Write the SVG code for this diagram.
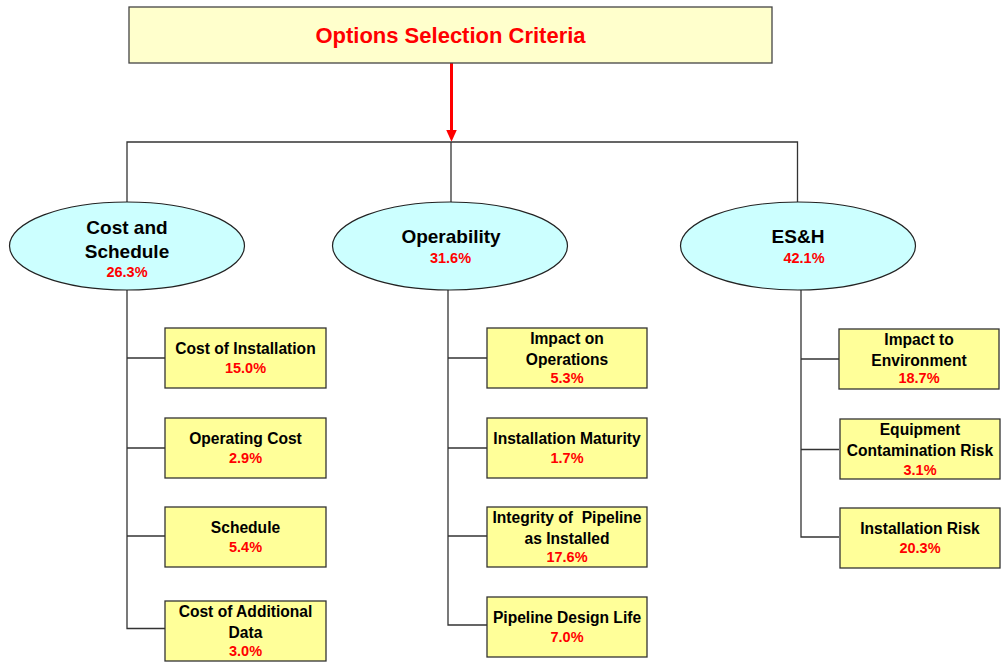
<svg xmlns="http://www.w3.org/2000/svg" width="1005" height="670" viewBox="0 0 1005 670">
<style>
.t{font-family:"Liberation Sans",Arial,sans-serif;font-weight:bold;text-anchor:middle}
.lb{font-size:15.6px;fill:#000}
.el{font-size:19px;fill:#000}
.pc{font-size:14.5px;fill:#FF0000}
.box{fill:#FFFF99;stroke:#333;stroke-width:1.3}
.ell{fill:#CCFFFF;stroke:#222;stroke-width:1.2}
.ln{fill:none;stroke:#333;stroke-width:1.3}
</style>
<defs>
<marker id="ah" markerWidth="4" markerHeight="4" refX="2.6" refY="2" orient="auto" markerUnits="strokeWidth" viewBox="0 0 4 4"><path d="M0,0.2 L4,2 L0,3.8 z" fill="#FF0000"/></marker>
</defs>
<g id="connectors">
<line x1="451.5" y1="63" x2="451.5" y2="137.5" stroke="#FF0000" stroke-width="3" marker-end="url(#ah)"/>
<polyline class="ln" points="127,202 127,142 797.5,142 797.5,202"/>
<line class="ln" x1="451" y1="142" x2="451" y2="202"/>
<polyline class="ln" points="127,290 127,628.5 165,628.5"/>
<line class="ln" x1="127" y1="358" x2="165" y2="358"/>
<line class="ln" x1="127" y1="448" x2="165" y2="448"/>
<line class="ln" x1="127" y1="536" x2="165" y2="536"/>
<polyline class="ln" points="448,290 448,625 487,625"/>
<line class="ln" x1="448" y1="358" x2="487" y2="358"/>
<line class="ln" x1="448" y1="448" x2="487" y2="448"/>
<line class="ln" x1="448" y1="536" x2="487" y2="536"/>
<polyline class="ln" points="801,290 801,537 839,537"/>
<line class="ln" x1="801" y1="359" x2="839" y2="359"/>
<line class="ln" x1="801" y1="449.5" x2="839" y2="449.5"/>
</g>
<g id="root">
<rect x="129" y="7" width="643" height="56" fill="#FFFFCC" stroke="#444" stroke-width="1.3"/>
<text class="t" x="450.5" y="43" font-size="22px" fill="#FF0000">Options Selection Criteria</text>
</g>
<g id="cost-schedule">
<ellipse class="ell" cx="127" cy="246" rx="117.5" ry="44"/>
<text class="t el" x="127" y="234">Cost and</text>
<text class="t el" x="127" y="258">Schedule</text>
<text class="t pc" x="127" y="277">26.3%</text>
</g>
<g id="operability">
<ellipse class="ell" cx="450" cy="246" rx="117.5" ry="44"/>
<text class="t el" x="451" y="243">Operability</text>
<text class="t pc" x="450.5" y="263">31.6%</text>
</g>
<g id="esh">
<ellipse class="ell" cx="798" cy="246" rx="117.5" ry="44"/>
<text class="t el" x="798" y="243">ES&amp;H</text>
<text class="t pc" x="804" y="263">42.1%</text>
</g>
<g id="cost-installation">
<rect class="box" x="165" y="328" width="161" height="60"/>
<text class="t lb" x="245.5" y="354">Cost of Installation</text>
<text class="t pc" x="245.5" y="373">15.0%</text>
</g>
<g id="operating-cost">
<rect class="box" x="165" y="418" width="161" height="60"/>
<text class="t lb" x="245.5" y="444">Operating Cost</text>
<text class="t pc" x="245.5" y="463">2.9%</text>
</g>
<g id="schedule">
<rect class="box" x="165" y="507" width="161" height="60"/>
<text class="t lb" x="245.5" y="533">Schedule</text>
<text class="t pc" x="245.5" y="552">5.4%</text>
</g>
<g id="cost-additional-data">
<rect class="box" x="165" y="601" width="161" height="60"/>
<text class="t lb" x="245.5" y="617">Cost of Additional</text>
<text class="t lb" x="245.5" y="638">Data</text>
<text class="t pc" x="245.5" y="656">3.0%</text>
</g>
<g id="impact-operations">
<rect class="box" x="487" y="328" width="160" height="60"/>
<text class="t lb" x="567" y="344">Impact on</text>
<text class="t lb" x="567" y="365">Operations</text>
<text class="t pc" x="567" y="383">5.3%</text>
</g>
<g id="installation-maturity">
<rect class="box" x="487" y="418" width="160" height="60"/>
<text class="t lb" x="567" y="444">Installation Maturity</text>
<text class="t pc" x="567" y="463">1.7%</text>
</g>
<g id="integrity-pipeline">
<rect class="box" x="487" y="507" width="160" height="60"/>
<text class="t lb" x="567" y="523" xml:space="preserve">Integrity of  Pipeline</text>
<text class="t lb" x="567" y="544">as Installed</text>
<text class="t pc" x="567" y="562">17.6%</text>
</g>
<g id="pipeline-design-life">
<rect class="box" x="487" y="597" width="160" height="60"/>
<text class="t lb" x="567" y="623">Pipeline Design Life</text>
<text class="t pc" x="567" y="642">7.0%</text>
</g>
<g id="impact-environment">
<rect class="box" x="839" y="329" width="160" height="60"/>
<text class="t lb" x="919" y="345">Impact to</text>
<text class="t lb" x="919" y="366">Environment</text>
<text class="t pc" x="919" y="383">18.7%</text>
</g>
<g id="equipment-contamination">
<rect class="box" x="840" y="419" width="160" height="60"/>
<text class="t lb" x="920" y="435">Equipment</text>
<text class="t lb" x="920" y="456">Contamination Risk</text>
<text class="t pc" x="920" y="475">3.1%</text>
</g>
<g id="installation-risk">
<rect class="box" x="840" y="508" width="160" height="60"/>
<text class="t lb" x="920" y="534">Installation Risk</text>
<text class="t pc" x="920" y="553">20.3%</text>
</g>
</svg>
